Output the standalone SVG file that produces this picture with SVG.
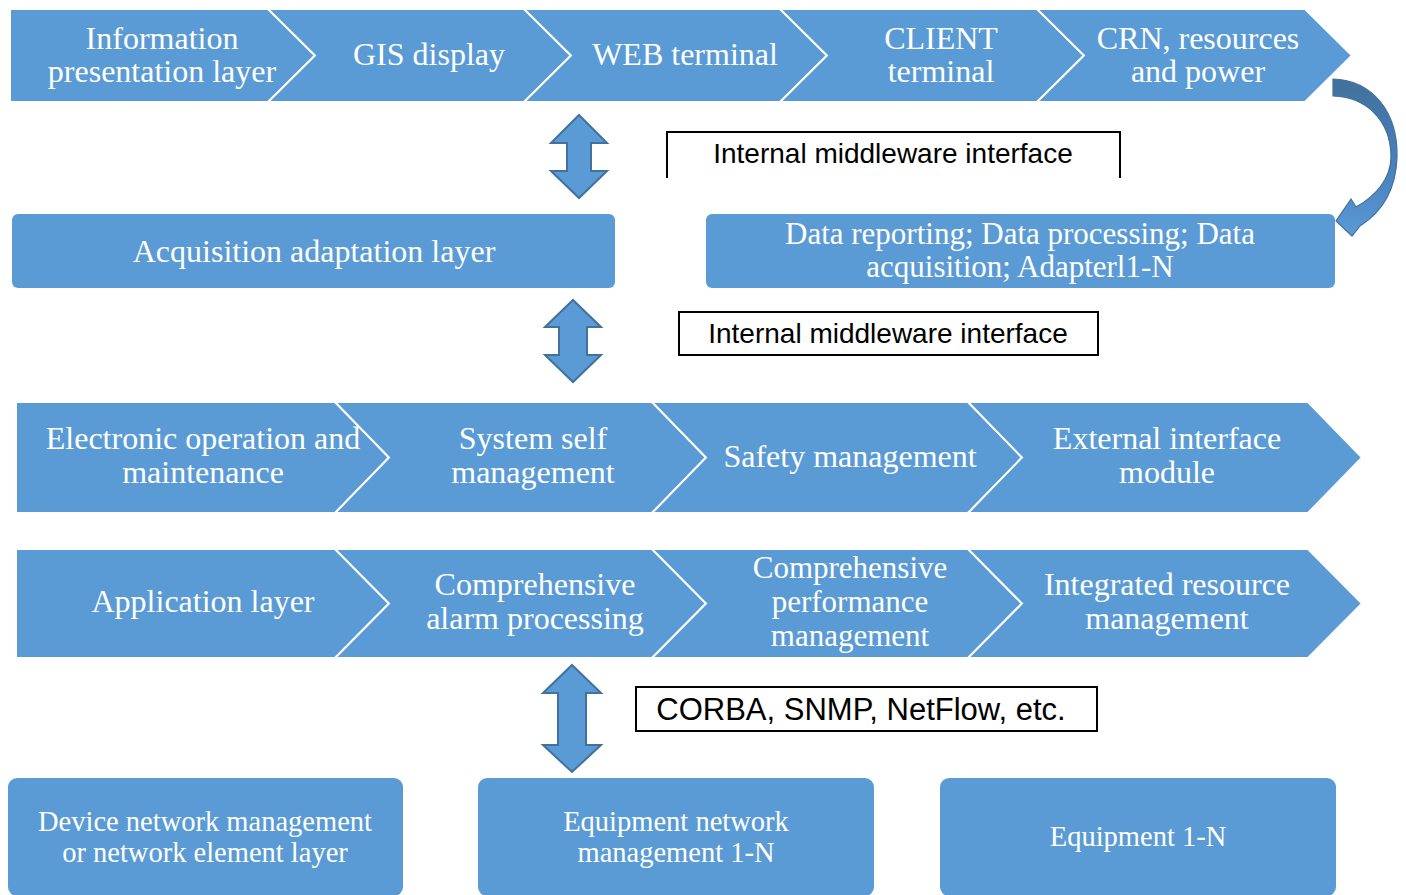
<svg xmlns="http://www.w3.org/2000/svg" width="1406" height="895" viewBox="0 0 1406 895">
<defs>
<style>
.chev{fill:#5B9BD5;stroke:#FFFFFF;stroke-width:2;stroke-linejoin:miter}
.box{fill:#5B9BD5}
.t{font-family:"Liberation Serif","Times New Roman",serif;fill:#FFFFFF;text-anchor:middle;font-size:32px}
.tb{font-family:"Liberation Serif","Times New Roman",serif;fill:#FFFFFF;text-anchor:middle;font-size:28.5px}
.lbl{font-family:"Liberation Sans",Arial,sans-serif;fill:#000000;text-anchor:middle;font-size:28px}
.frame{fill:#FFFFFF;stroke:#000000;stroke-width:2}
.dbl{fill:#5B9BD5;stroke:#41719C;stroke-width:2;stroke-linejoin:miter}
</style>
<linearGradient id="cg" x1="0" y1="0" x2="0" y2="1">
<stop offset="0" stop-color="#41719C"/>
<stop offset="0.6" stop-color="#4A82BE"/>
<stop offset="1" stop-color="#5B9BD5"/>
</linearGradient>
</defs>
<rect width="1406" height="895" fill="#FFFFFF"/>

<!-- Top row -->
<g id="info-layer">
<path class="chev" d="M10,9 H268 L315,55.5 L268,102 H10 Z"/>
<text class="t" x="162" y="49">Information</text>
<text class="t" x="162" y="82">presentation layer</text>
</g>
<g id="gis-display">
<path class="chev" d="M268,9 H524 L571,55.5 L524,102 H268 L315,55.5 Z"/>
<text class="t" x="429" y="65">GIS display</text>
</g>
<g id="web-terminal">
<path class="chev" d="M524,9 H780 L827,55.5 L780,102 H524 L571,55.5 Z"/>
<text class="t" x="685" y="65">WEB terminal</text>
</g>
<g id="client-terminal">
<path class="chev" d="M780,9 H1037 L1084,55.5 L1037,102 H780 L827,55.5 Z"/>
<text class="t" x="941" y="49">CLIENT</text>
<text class="t" x="941" y="82">terminal</text>
</g>
<g id="crn">
<path class="chev" d="M1037,9 H1305 L1352,55.5 L1305,102 H1037 L1084,55.5 Z"/>
<text class="t" x="1198" y="49">CRN, resources</text>
<text class="t" x="1198" y="82">and power</text>
</g>

<!-- Label 1 -->
<g id="label-internal-1">
<path d="M667,178 V132 H1120 V178" fill="none" stroke="#000000" stroke-width="2"/>
<text class="lbl" x="893" y="163">Internal middleware interface</text>
</g>

<!-- Acquisition row -->
<g id="acquisition-layer">
<rect class="box" x="12" y="214" width="603" height="74" rx="6"/>
<text class="t" x="314" y="262">Acquisition adaptation layer</text>
</g>
<g id="data-reporting">
<rect class="box" x="706" y="214" width="629" height="74" rx="6"/>
<text class="t" x="1020" y="244" style="font-size:31px">Data reporting; Data processing; Data</text>
<text class="t" x="1020" y="277" style="font-size:31px">acquisition; Adapterl1-N</text>
</g>

<!-- Label 2 -->
<g id="label-internal-2">
<rect class="frame" x="679" y="312" width="419" height="43"/>
<text class="lbl" x="888" y="343">Internal middleware interface</text>
</g>

<!-- Middle row A -->
<g id="electronic-om">
<path class="chev" d="M16,402 H335 L389,457.5 L335,513 H16 Z"/>
<text class="t" x="203" y="449">Electronic operation and</text>
<text class="t" x="203" y="483">maintenance</text>
</g>
<g id="system-self">
<path class="chev" d="M335,402 H652 L706,457.5 L652,513 H335 L389,457.5 Z"/>
<text class="t" x="533" y="449">System self</text>
<text class="t" x="533" y="483">management</text>
</g>
<g id="safety">
<path class="chev" d="M652,402 H968 L1022,457.5 L968,513 H652 L706,457.5 Z"/>
<text class="t" x="850" y="467">Safety management</text>
</g>
<g id="external-interface">
<path class="chev" d="M968,402 H1308 L1362,457.5 L1308,513 H968 L1022,457.5 Z"/>
<text class="t" x="1167" y="449">External interface</text>
<text class="t" x="1167" y="483">module</text>
</g>

<!-- Middle row B -->
<g id="application-layer">
<path class="chev" d="M16,549 H335 L389,603.5 L335,658 H16 Z"/>
<text class="t" x="203" y="612">Application layer</text>
</g>
<g id="alarm-processing">
<path class="chev" d="M335,549 H652 L706,603.5 L652,658 H335 L389,603.5 Z"/>
<text class="t" x="535" y="595">Comprehensive</text>
<text class="t" x="535" y="629">alarm processing</text>
</g>
<g id="performance">
<path class="chev" d="M652,549 H968 L1022,603.5 L968,658 H652 L706,603.5 Z"/>
<text class="t" x="850" y="578" style="font-size:31px">Comprehensive</text>
<text class="t" x="850" y="612" style="font-size:31px">performance</text>
<text class="t" x="850" y="646" style="font-size:31px">management</text>
</g>
<g id="integrated-resource">
<path class="chev" d="M968,549 H1308 L1362,603.5 L1308,658 H968 L1022,603.5 Z"/>
<text class="t" x="1167" y="595">Integrated resource</text>
<text class="t" x="1167" y="629">management</text>
</g>

<!-- Label 3 -->
<g id="label-corba">
<rect class="frame" x="636" y="687" width="461" height="44"/>
<text class="lbl" x="861" y="720" style="font-size:31px">CORBA, SNMP, NetFlow, etc.</text>
</g>

<!-- Bottom row -->
<g id="device-nm">
<rect class="box" x="8" y="778" width="395" height="118" rx="9"/>
<text class="tb" x="205" y="831">Device network management</text>
<text class="tb" x="205" y="862">or network element layer</text>
</g>
<g id="equipment-nm">
<rect class="box" x="478" y="778" width="396" height="118" rx="9"/>
<text class="tb" x="676" y="831">Equipment network</text>
<text class="tb" x="676" y="862">management 1-N</text>
</g>
<g id="equipment">
<rect class="box" x="940" y="778" width="396" height="118" rx="9"/>
<text class="tb" x="1138" y="846">Equipment 1-N</text>
</g>

<!-- Connectors -->
<g id="connectors">
<path class="dbl" d="M579,115 L607,143 L591,143 L591,171 L607,171 L579,198 L551,171 L567,171 L567,143 L551,143 Z"/>
<path class="dbl" d="M573,300 L601,327 L587,327 L587,355 L601,355 L573,382 L545,355 L559,355 L559,327 L545,327 Z"/>
<path class="dbl" d="M572,665 L601,693 L586,693 L586,745 L601,745 L572,772 L543,745 L558,745 L558,693 L543,693 Z"/>
<path d="M1333,79 C1372,80 1398,112 1397,157 C1396,190 1382,212 1360,226 L1352,236 L1336,221 L1351,199 L1356,207 C1376,196 1391,178 1391,157 C1391,120 1366,97 1333,96 Z" fill="url(#cg)" stroke="#41719C" stroke-width="1.2"/>
</g>
</svg>
